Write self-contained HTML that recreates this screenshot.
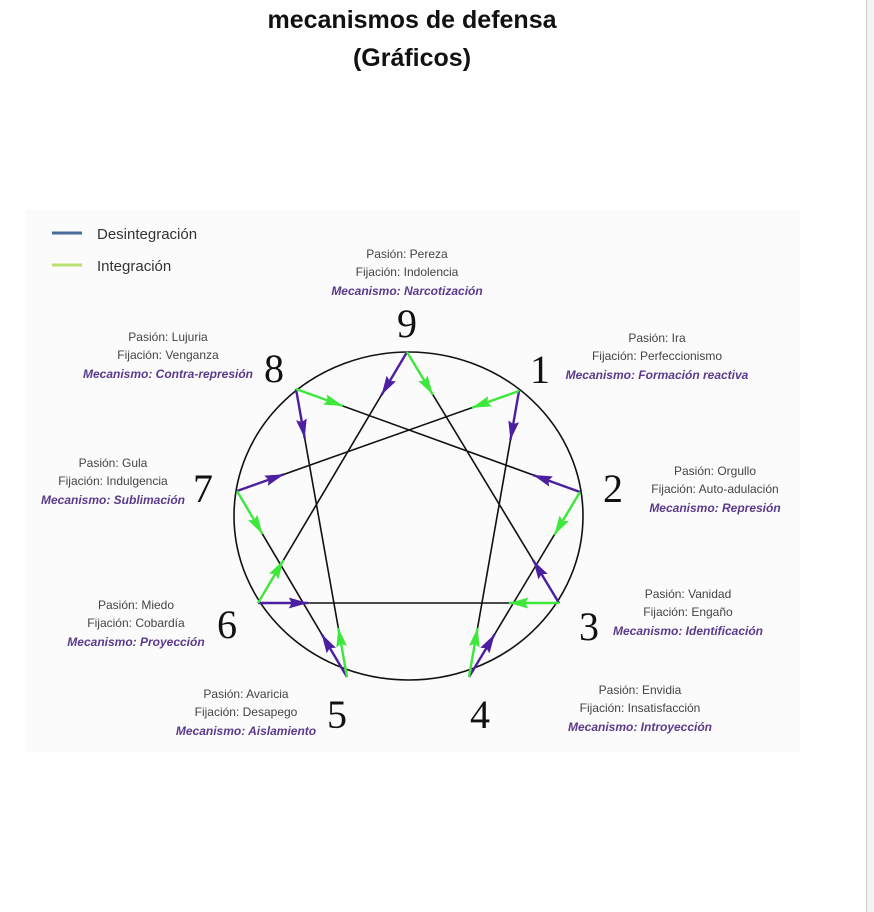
<!DOCTYPE html>
<html><head><meta charset="utf-8"><style>
html,body{margin:0;padding:0;background:#fff;width:874px;height:912px;overflow:hidden}
.t{position:absolute;left:0;width:824px;text-align:center;font-family:"Liberation Sans",sans-serif;font-weight:bold;font-size:25px;color:#111}
.sb{position:absolute;left:866px;top:0;width:8px;height:912px;background:#f3f3f3;border-left:1px solid #cfcfcf}
svg{position:absolute;left:0;top:0}
</style></head><body>
<div class="t" style="top:6px">mecanismos de defensa</div>
<div class="t" style="top:44px">(Gráficos)</div>
<div class="sb"></div>
<svg id="s" width="874" height="912" xmlns="http://www.w3.org/2000/svg">
<defs>
<marker id="mp" viewBox="0 0 10 10" refX="10" refY="5" markerWidth="8" markerHeight="4.5" orient="auto" markerUnits="strokeWidth" preserveAspectRatio="none"><path d="M0,0L10,5L0,10L1.5,5z" fill="#4b1fa0"/></marker>
<marker id="mg" viewBox="0 0 10 10" refX="10" refY="5" markerWidth="8" markerHeight="4.5" orient="auto" markerUnits="strokeWidth" preserveAspectRatio="none"><path d="M0,0L10,5L0,10L1.5,5z" fill="#3de83a"/></marker>
</defs>
<rect x="25" y="210" width="775" height="542" fill="#fbfbfb"/>
<line x1="52" y1="233" x2="82" y2="233" stroke="#4a6a9a" stroke-width="3"/>
<line x1="52" y1="265" x2="82" y2="265" stroke="#b8e070" stroke-width="3"/>
<g font-family="'Liberation Sans',sans-serif" font-size="15" fill="#333">
<text x="97" y="239">Desintegración</text><text x="97" y="271">Integración</text></g>
<ellipse cx="408.5" cy="516" rx="174.5" ry="164" fill="none" stroke="#111" stroke-width="1.6"/>
<g id="lines" stroke="#111" stroke-width="1.6"></g>
<g id="arr"></g>
<g font-family="'Liberation Serif',serif" font-size="40" fill="#111" text-anchor="middle">
<text x="407" y="337">9</text><text x="274" y="382">8</text><text x="540" y="383">1</text>
<text x="203" y="502">7</text><text x="613" y="502">2</text><text x="227" y="638">6</text>
<text x="589" y="640">3</text><text x="337" y="728">5</text><text x="480" y="728">4</text></g>
<g font-family="'Liberation Sans',sans-serif" font-size="12" fill="#444" text-anchor="middle" id="lab"></g>
</svg>
<script>
var P={9:[407,352],1:[519,391],2:[580,492],3:[559,603],4:[469,677],5:[347,677],6:[258,603],7:[237,491],8:[296,389]};
var NS="http://www.w3.org/2000/svg";
function el(t,a,p){var e=document.createElementNS(NS,t);for(var k in a)e.setAttribute(k,a[k]);p.appendChild(e);return e;}
var L=document.getElementById("lines");
[[9,3],[9,6],[3,6],[1,4],[4,2],[2,8],[8,5],[5,7],[7,1]].forEach(function(s){var a=P[s[0]],b=P[s[1]];el("line",{x1:a[0],y1:a[1],x2:b[0],y2:b[1]},L);});
var A=document.getElementById("arr");
function arrow(f,t,c){var a=P[f],b=P[t],dx=b[0]-a[0],dy=b[1]-a[1],d=Math.sqrt(dx*dx+dy*dy),k=50/d;
el("line",{x1:a[0],y1:a[1],x2:a[0]+dx*k,y2:a[1]+dy*k,stroke:c=="p"?"#4b1fa0":"#3de83a","stroke-width":2.4,"marker-end":"url(#m"+c+")"},A);}
[[1,4],[2,8],[3,9],[4,2],[5,7],[6,3],[7,1],[8,5],[9,6]].forEach(function(s){arrow(s[0],s[1],"p");});
[[1,7],[7,5],[5,8],[8,2],[2,4],[4,1],[9,3],[3,6],[6,9]].forEach(function(s){arrow(s[0],s[1],"g");});
var G=document.getElementById("lab");
var D=[[407,258,"Pereza","Indolencia","Narcotización"],[168,341,"Lujuria","Venganza","Contra-represión"],[657,342,"Ira","Perfeccionismo","Formación reactiva"],
[113,467,"Gula","Indulgencia","Sublimación"],[715,475,"Orgullo","Auto-adulación","Represión"],[136,609,"Miedo","Cobardía","Proyección"],
[688,598,"Vanidad","Engaño","Identificación"],[246,698,"Avaricia","Desapego","Aislamiento"],[640,694,"Envidia","Insatisfacción","Introyección"]];
D.forEach(function(d){el("text",{x:d[0],y:d[1]},G).textContent="Pasión: "+d[2];
el("text",{x:d[0],y:d[1]+18},G).textContent="Fijación: "+d[3];
var m=el("text",{x:d[0],y:d[1]+37,fill:"#5b3a8c","font-weight":"bold","font-style":"italic"},G);m.textContent="Mecanismo: "+d[4];});
</script>
</body></html>
